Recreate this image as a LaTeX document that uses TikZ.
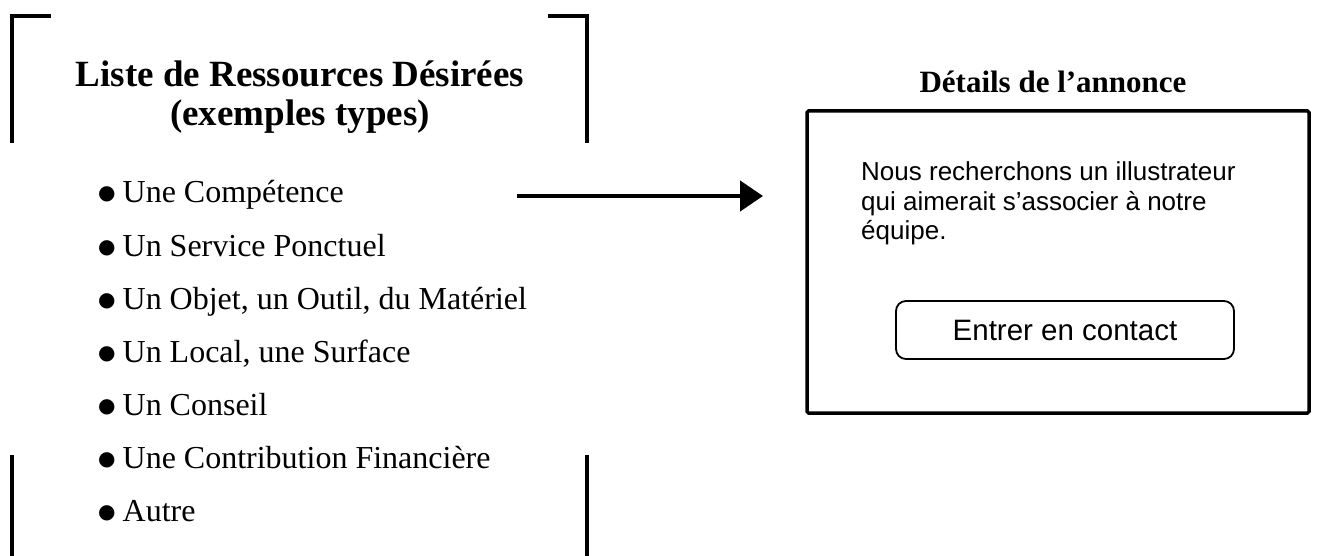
\documentclass[tikz,border=0pt]{standalone}
\usepackage{fontspec}
\setmainfont{Liberation Serif}
\newfontfamily\sansf{Liberation Sans}
\newfontfamily\dejavu{DejaVu Sans}
\usetikzlibrary{arrows.meta}
\tikzset{
  bracket/.style={line width=3.5pt, line cap=butt, line join=miter},
  itemtxt/.style={anchor=base west, inner sep=0pt, font=\fontsize{32}{36}\selectfont},
  arrowline/.style={line width=4.5pt, -{Triangle[length=23pt,width=30pt]}},
  panel/.style={draw, line width=3.5pt, rounded corners=1.5pt},
  button/.style={draw, line width=1.8pt, rounded corners=10pt, minimum width=338pt, minimum height=58pt, inner sep=0pt, font=\sansf\fontsize{29.5}{34}\selectfont},
}
\newcommand{\bul}{\raisebox{3pt}{\dejavu\fontsize{20}{20}\selectfont ●}\hspace{7pt}}
\begin{document}
\begin{tikzpicture}[x=1pt,y=-1pt]
\useasboundingbox (0,0) rectangle (1325,556);
% brackets
\draw[bracket] (51,16) -- (12,16) -- (12,143);
\draw[bracket] (548,16) -- (587,16) -- (587,143);
\draw[bracket] (12,455) -- (12,560);
\draw[bracket] (587,455) -- (587,560);
% title
\node[align=center, inner sep=0pt, font=\bfseries\fontsize{37}{39}\selectfont] (title) at (300,97) {Liste de Ressources Désirées\\(exemples types)};
% list
\node[itemtxt] (i1) at (98,203) {\bul Une Compétence};
\node[itemtxt] (i2) at (98,256) {\bul Un Service Ponctuel};
\node[itemtxt] (i3) at (98,309) {\bul Un Objet, un Outil, du Matériel};
\node[itemtxt] (i4) at (98,362) {\bul Un Local, une Surface};
\node[itemtxt] (i5) at (98,415) {\bul Un Conseil};
\node[itemtxt] (i6) at (98,468) {\bul Une Contribution Financière};
\node[itemtxt] (i7) at (98,521) {\bul Autre};
% arrow
\coordinate (as) at (517,196);
\coordinate (ae) at (763,196);
\draw[arrowline] (as) -- (ae);
% right panel
\node[anchor=base, inner sep=0pt, font=\bfseries\fontsize{31}{36}\selectfont] (head) at (1053,93) {Détails de l’annonce};
\draw[panel] (807,111) rectangle (1309,413);
\node[anchor=base west, align=left, inner sep=0pt, font=\sansf\fontsize{26}{29.5}\selectfont] (body) at (861,240) {Nous recherchons un illustrateur\\qui aimerait s’associer à notre\\équipe.};
\node[button] (btn) at (1065,330) {Entrer en contact};
\end{tikzpicture}
\end{document}
